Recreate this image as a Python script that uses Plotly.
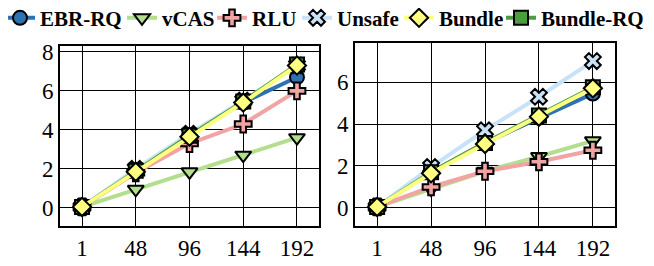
import plotly.graph_objects as go

threads = ["1", "48", "96", "144", "192"]
series = ["EBR-RQ", "vCAS", "RLU", "Unsafe", "Bundle", "Bundle-RQ"]

left = {
    "EBR-RQ":    [0.05, 1.9, 3.7, 5.4, 6.7],
    "vCAS":      [0.05, 0.95, 1.85, 2.7, 3.6],
    "RLU":       [0.05, 1.8, 3.3, 4.3, 6.0],
    "Unsafe":    [0.05, 2.0, 3.8, 5.5, 7.3],
    "Bundle":    [0.05, 1.85, 3.65, 5.4, 7.3],
    "Bundle-RQ": [0.05, 1.9, 3.7, 5.45, 7.35],
}
right = {
    "EBR-RQ":    [0.05, 1.7, 3.1, 4.3, 5.45],
    "vCAS":      [0.05, 0.9, 1.75, 2.45, 3.2],
    "RLU":       [0.05, 1.0, 1.75, 2.2, 2.75],
    "Unsafe":    [0.05, 1.95, 3.7, 5.3, 7.0],
    "Bundle":    [0.05, 1.65, 3.05, 4.35, 5.7],
    "Bundle-RQ": [0.05, 1.7, 3.1, 4.4, 5.75],
}

colors = {
    "EBR-RQ": "#2f72b4",
    "vCAS": "#b3de8e",
    "RLU": "#f2a3a3",
    "Unsafe": "#c8e2f7",
    "Bundle": "#ffff80",
    "Bundle-RQ": "#4b9e3c",
}
symbols = {
    "EBR-RQ": "circle",
    "vCAS": "triangle-down",
    "RLU": "cross",
    "Unsafe": "x",
    "Bundle": "diamond",
    "Bundle-RQ": "square",
}
draw_order = ["EBR-RQ", "vCAS", "RLU", "Unsafe", "Bundle-RQ", "Bundle"]

# Page body has an 8px margin: figure is 8px smaller, coordinates offset by 8px.
W, H, OFF = 646, 258, 8
def xd(a, b):
    return [(a - OFF) / W, (b - OFF) / W]
def yd(top, bottom):
    return [(H - (bottom - OFF)) / H, (H - (top - OFF)) / H]

# legend text start (page px) for each series, one legend box per series
legend_text_x = {"EBR-RQ": 38, "vCAS": 160, "RLU": 250, "Unsafe": 335, "Bundle": 437, "Bundle-RQ": 539}
legend_key = {name: ("legend" if i == 0 else "legend%d" % (i + 1)) for i, name in enumerate(series)}

fig = go.Figure()
for panel, data, xa, ya in [(0, left, "x", "y"), (1, right, "x2", "y2")]:
    for name in draw_order:
        fig.add_trace(go.Scatter(
            x=threads, y=data[name], name=name, mode="lines+markers",
            xaxis=xa, yaxis=ya,
            line=dict(color=colors[name], width=4),
            marker=dict(symbol=symbols[name], size=14, color=colors[name],
                        line=dict(color="black", width=2)),
            showlegend=(panel == 0), legend=legend_key[name],
        ))

SERIF = "Liberation Serif"
axis_common = dict(showline=True, linecolor="black", linewidth=2, mirror=True,
                   showgrid=True, gridcolor="black", gridwidth=1, ticks="",
                   tickfont=dict(family=SERIF, size=23, color="black"), zeroline=False)

legends = {}
for name in series:
    legends[legend_key[name]] = dict(
        orientation="h", x=(legend_text_x[name] - OFF - 38) / W, y=1.04,
        xanchor="left", yanchor="top",
        font=dict(family=SERIF, size=21, color="black", weight="bold"),
        itemwidth=30, bgcolor="rgba(0,0,0,0)", borderwidth=0,
    )

fig.update_layout(
    width=W, height=H,
    font=dict(family=SERIF, color="black"),
    margin=dict(l=0, r=0, t=0, b=0, autoexpand=False),
    plot_bgcolor="white", paper_bgcolor="white",
    showlegend=True,
    xaxis=dict(domain=xd(60, 319), type="category", range=[-0.41, 4.41], anchor="y", **axis_common),
    yaxis=dict(domain=yd(46, 226), range=[-0.93, 8.3], tickvals=[0, 2, 4, 6, 8], anchor="x", **axis_common),
    xaxis2=dict(domain=xd(355, 615), type="category", range=[-0.41, 4.41], anchor="y2", **axis_common),
    yaxis2=dict(domain=yd(43, 226), range=[-0.86, 7.86], tickvals=[0, 2, 4, 6], anchor="x2", **axis_common),
    **legends,
)

fig.write_html("out.html")
